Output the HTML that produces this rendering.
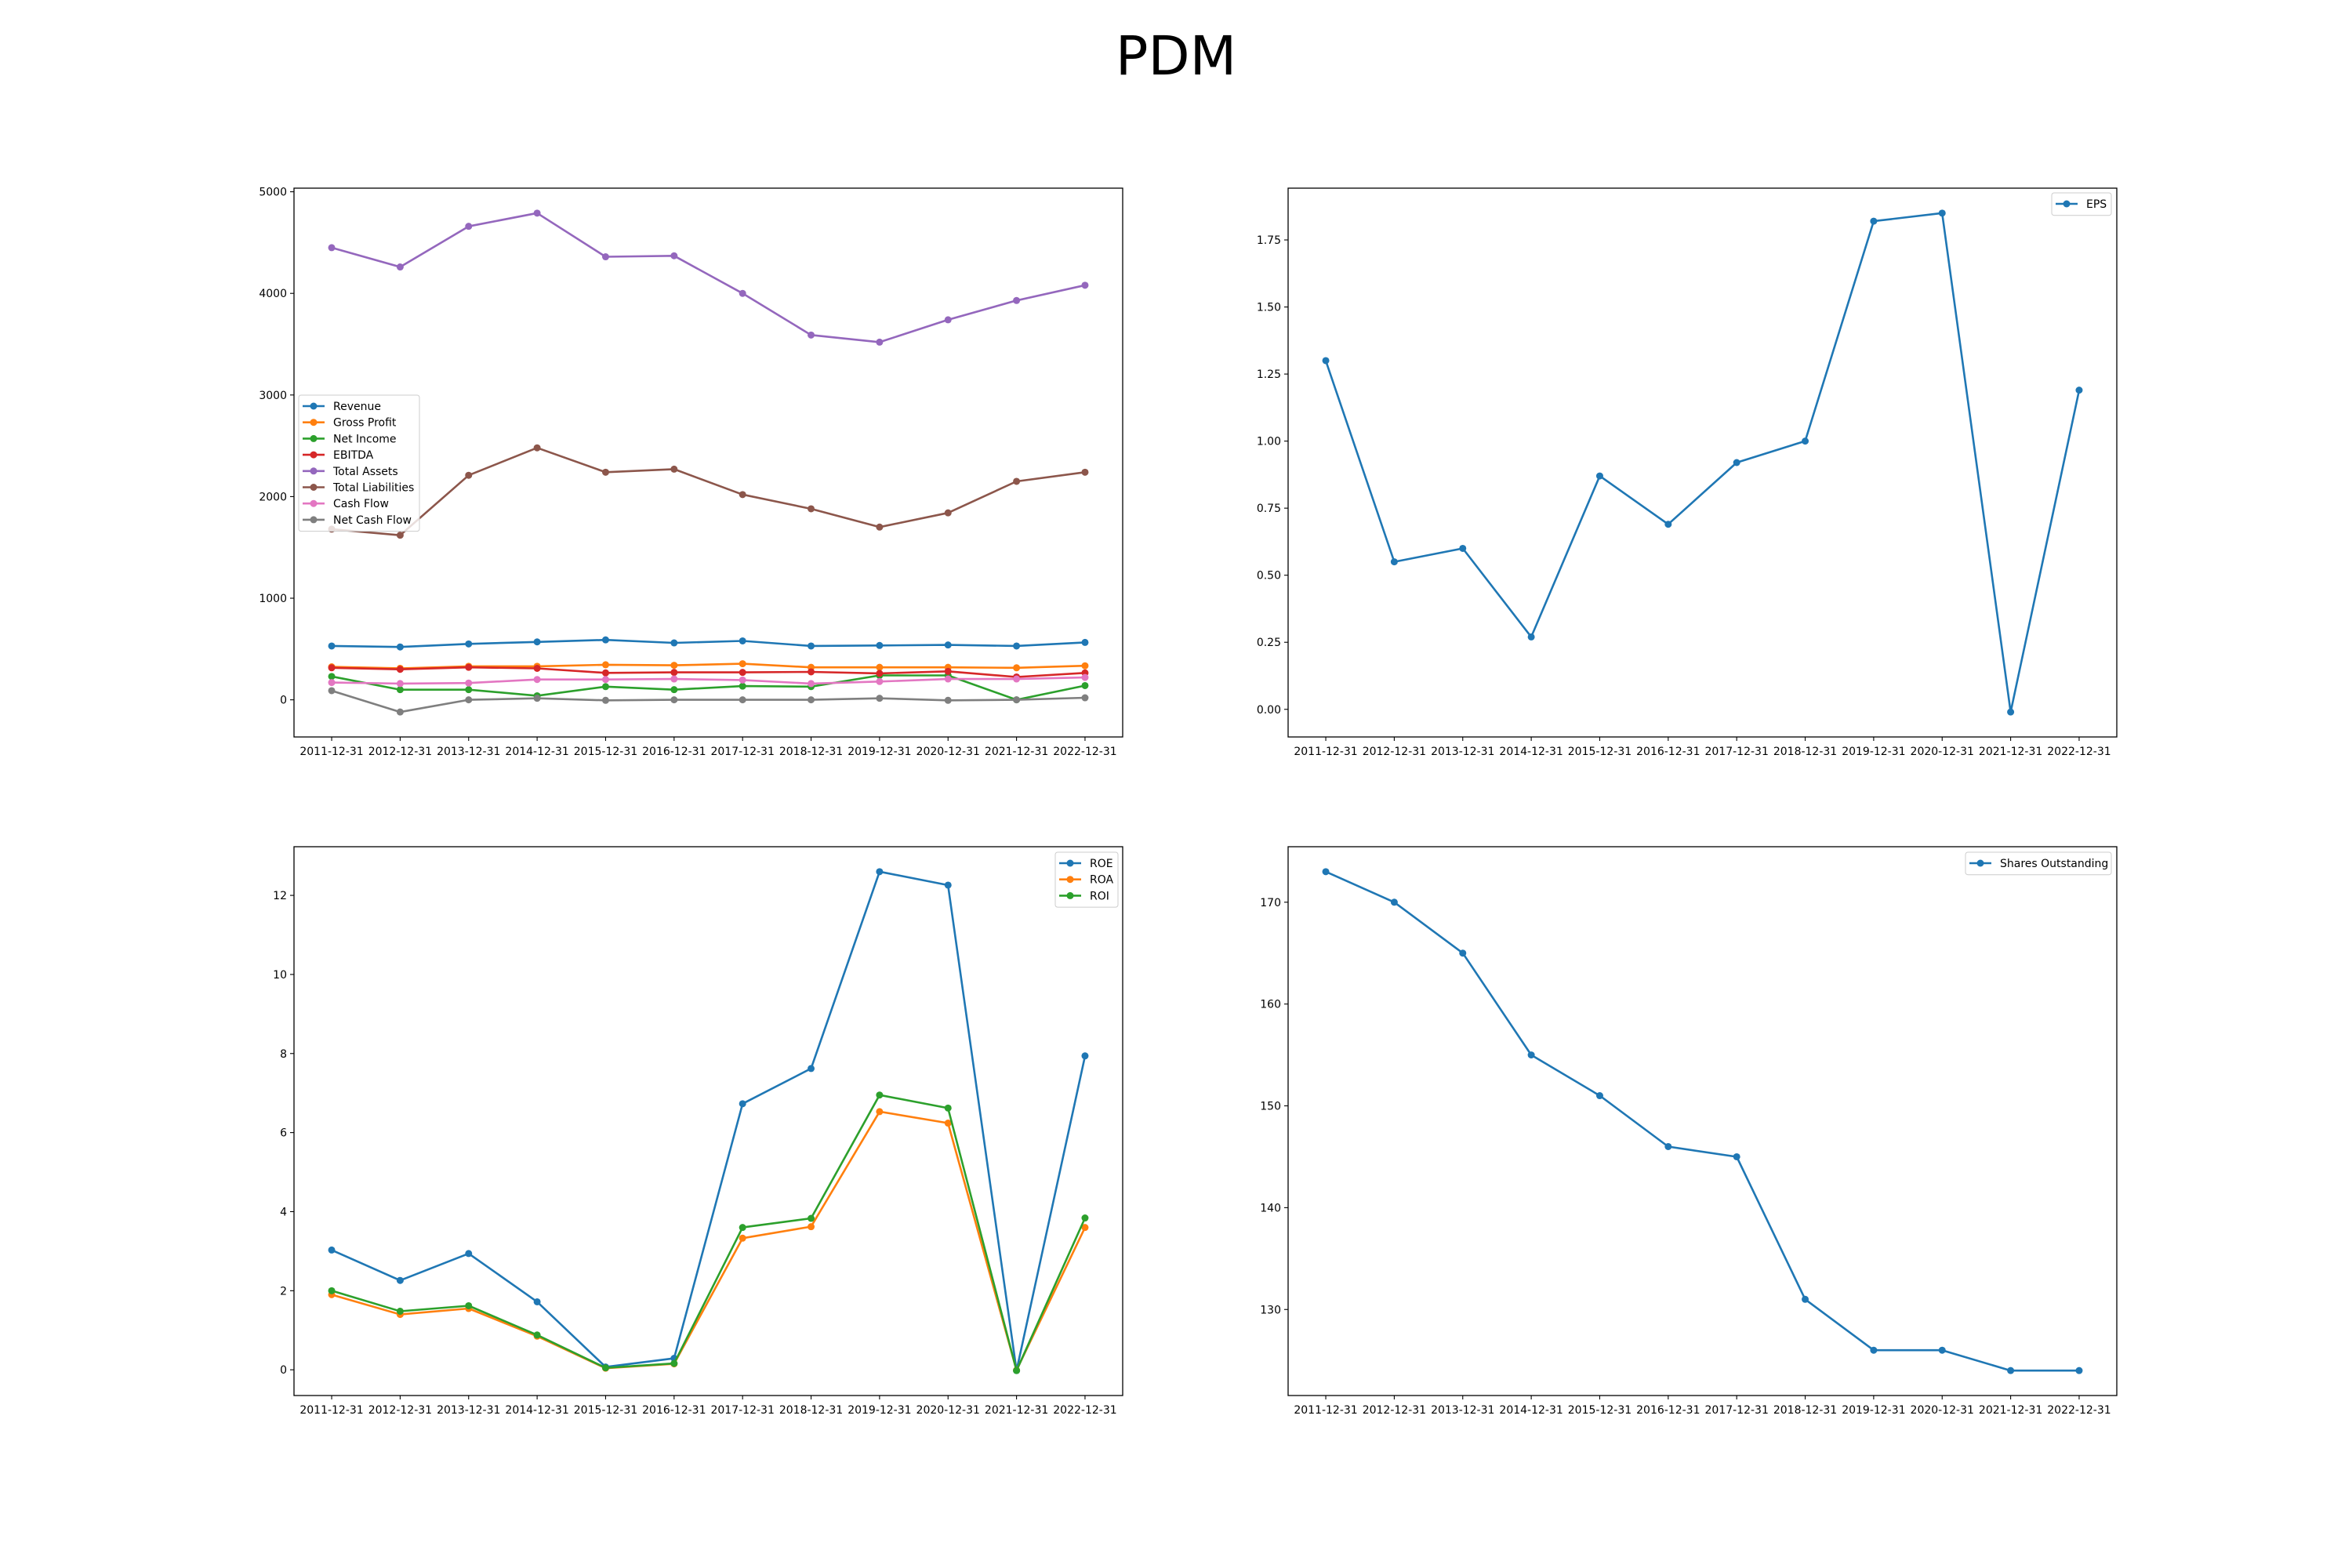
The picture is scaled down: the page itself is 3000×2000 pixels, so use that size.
<!DOCTYPE html>
<html><head><meta charset="utf-8">
<style>
html,body{margin:0;padding:0;background:#fff;}
svg{display:block;font-family:"DejaVu Sans","Liberation Sans",sans-serif;}
</style></head>
<body>
<svg id="fig" width="3000" height="2000" viewBox="0 0 3000 2000">
<text x="1500" y="95" font-size="69" text-anchor="middle">PDM</text>
</svg>
<script>
const categories = ["2011-12-31","2012-12-31","2013-12-31","2014-12-31","2015-12-31","2016-12-31","2017-12-31","2018-12-31","2019-12-31","2020-12-31","2021-12-31","2022-12-31"];
const revenue = [530,520,550,570,590,560,580,530,535,540,530,565];
const grossProfit = [325,310,330,330,345,340,355,320,320,320,315,335];
const netIncome = [230,100,100,40,130,100,135,130,240,240,0,140];
const ebitda = [315,300,320,310,265,270,270,275,260,280,225,265];
const totalAssets = [4450,4260,4660,4790,4360,4370,4000,3590,3520,3740,3930,4080];
const totalLiabilities = [1680,1620,2210,2480,2240,2270,2020,1880,1700,1840,2150,2240];
const cashFlow = [170,160,165,200,200,205,195,160,180,205,205,220];
const netCashFlow = [90,-120,0,15,-5,0,0,0,15,-5,0,20];
const eps = [1.30,0.55,0.60,0.27,0.87,0.69,0.92,1.00,1.82,1.85,-0.01,1.19];
const roe = [3.03,2.26,2.94,1.72,0.07,0.29,6.73,7.62,12.6,12.26,-0.02,7.94];
const roa = [1.9,1.4,1.55,0.85,0.04,0.15,3.33,3.62,6.53,6.24,-0.01,3.6];
const roi = [2.0,1.48,1.62,0.88,0.05,0.16,3.6,3.83,6.95,6.62,-0.02,3.84];
const shares = [173,170,165,155,151,146,145,131,126,126,124,124];
const ticks1 = [0,1000,2000,3000,4000,5000];
const ticks2 = [0,0.25,0.5,0.75,1.0,1.25,1.5,1.75];
const ticks3 = [0,2,4,6,8,10,12];
const ticks4 = [130,140,150,160,170];

const NS="http://www.w3.org/2000/svg";
const fig=document.getElementById('fig');
function mk(tag,attrs,parent){const e=document.createElementNS(NS,tag);for(const k in attrs)e.setAttribute(k,attrs[k]);(parent||fig).appendChild(e);return e;}

function chart(name,box,series,ticks,fmt,legend){
  const g=mk('g',{});
  
  
  const [L,T,R,B]=box;
  let mn=Infinity,mx=-Infinity;
  series.forEach(s=>s.v.forEach(v=>{mn=Math.min(mn,v);mx=Math.max(mx,v);}));
  const pad=(mx-mn)*0.05; const y0=mn-pad,y1=mx+pad;
  const n=categories.length; const x0=-0.55,x1=n-1+0.55;
  const X=i=>L+(i-x0)/(x1-x0)*(R-L);
  const Y=v=>B-(v-y0)/(y1-y0)*(B-T);
  ticks.forEach(t=>{
    const y=Y(t);
    mk('line',{x1:L-5,x2:L,y1:y,y2:y,stroke:'#000','stroke-width':1.1},g);
    const tx=mk('text',{x:L-9,y:y+5,'font-size':14,'text-anchor':'end'},g);
    tx.textContent=fmt(t);
    
    
  });
  categories.forEach((c,i)=>{
    const x=X(i);
    mk('line',{x1:x,x2:x,y1:B,y2:B+5,stroke:'#000','stroke-width':1.1},g);
    const tx=mk('text',{x:x,y:B+23,'font-size':14,'text-anchor':'middle'},g);
    tx.textContent=c;
    
    
  });
  series.forEach(s=>{
    const pts=s.v.map((v,i)=>X(i).toFixed(1)+','+Y(v).toFixed(1)).join(' ');
    const pl=mk('polyline',{points:pts,fill:'none',stroke:s.c,'stroke-width':2.6,'stroke-linejoin':'round'},g);
    
    
    s.v.forEach((v,i)=>{
      const c=mk('circle',{cx:X(i),cy:Y(v),r:4.5,fill:s.c},g);
      
      
    });
  });
  const fr=mk('rect',{x:L,y:T,width:R-L,height:B-T,fill:'none',stroke:'#000','stroke-width':1.3},g);
  
  
  const [lx,ly,lw]=legend;
  const lh=series.length*20.7+8;
  const lg=mk('g',{},g);
  
  
  mk('rect',{x:lx,y:ly,width:lw,height:lh,rx:3,fill:'#fff','fill-opacity':0.8,stroke:'#ccc','stroke-width':1},lg);
  series.forEach((s,i)=>{
    const yy=ly+14+i*20.7;
    const e=mk('g',{},lg);
    
    
    mk('line',{x1:lx+5,x2:lx+33,y1:yy,y2:yy,stroke:s.c,'stroke-width':2.6},e);
    mk('circle',{cx:lx+19,cy:yy,r:4.5,fill:s.c},e);
    const t=mk('text',{x:lx+44,y:yy+5,'font-size':14},e);
    t.textContent=s.n;
  });
}
const AX1=[375,240,1432,940],AX2=[1643,240,2700,940],AX3=[375,1080,1432,1780],AX4=[1643,1080,2700,1780];
chart('financials-chart',AX1,[
 {n:'Revenue',k:'revenue',v:revenue,c:'#1f77b4'},
 {n:'Gross Profit',k:'gross-profit',v:grossProfit,c:'#ff7f0e'},
 {n:'Net Income',k:'net-income',v:netIncome,c:'#2ca02c'},
 {n:'EBITDA',k:'ebitda',v:ebitda,c:'#d62728'},
 {n:'Total Assets',k:'total-assets',v:totalAssets,c:'#9467bd'},
 {n:'Total Liabilities',k:'total-liabilities',v:totalLiabilities,c:'#8c564b'},
 {n:'Cash Flow',k:'cash-flow',v:cashFlow,c:'#e377c2'},
 {n:'Net Cash Flow',k:'net-cash-flow',v:netCashFlow,c:'#7f7f7f'}
],ticks1,t=>String(t),[381,504,154]);
chart('eps-chart',AX2,[{n:'EPS',k:'eps',v:eps,c:'#1f77b4'}],ticks2,t=>t.toFixed(2),[2617,246,76]);
chart('returns-chart',AX3,[
 {n:'ROE',k:'roe',v:roe,c:'#1f77b4'},
 {n:'ROA',k:'roa',v:roa,c:'#ff7f0e'},
 {n:'ROI',k:'roi',v:roi,c:'#2ca02c'}
],ticks3,t=>String(t),[1346,1087,80]);
chart('shares-chart',AX4,[{n:'Shares Outstanding',k:'shares',v:shares,c:'#1f77b4'}],ticks4,t=>String(t),[2507,1087,186]);
</script>
</body></html>
